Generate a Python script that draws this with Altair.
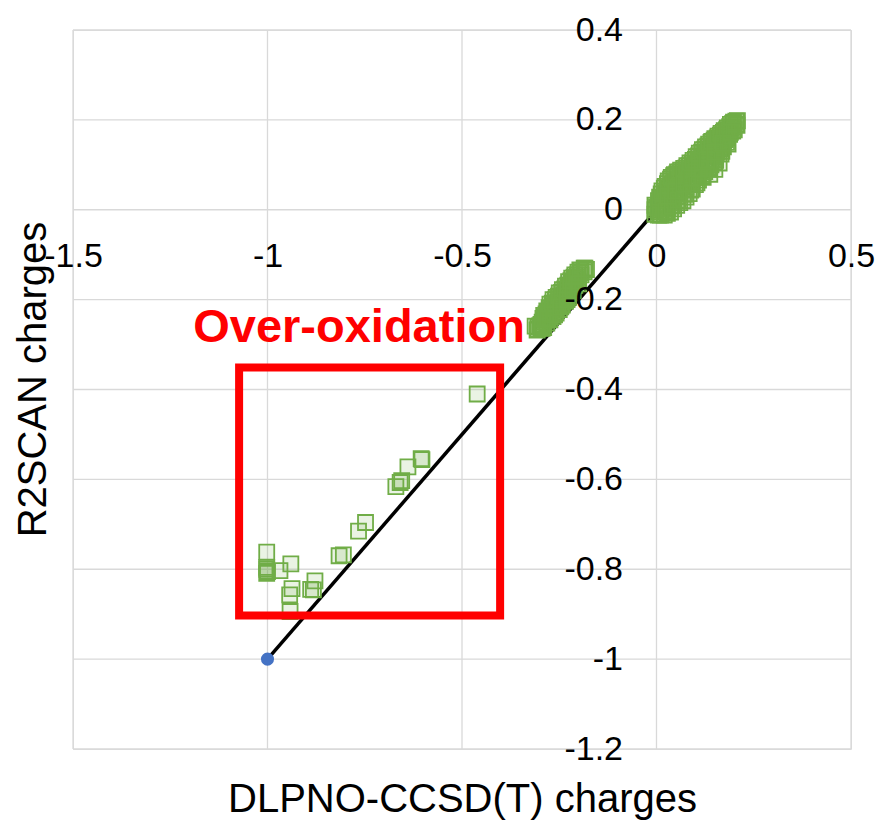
import altair as alt
import pandas as pd

FONT = "Liberation Sans"
W, H = 778, 719
X_DOMAIN = [-1.5, 0.5]
Y_DOMAIN = [-1.2, 0.4]
x_ticks = [-1.5, -1, -0.5, 0, 0.5]
y_ticks = [-1.2, -1, -0.8, -0.6, -0.4, -0.2, 0, 0.2, 0.4]

# over-oxidised outliers
box_x = [-0.461, -0.605, -0.603, -0.639, -0.659, -0.670, -0.655, -0.748, -0.766, -0.805, -0.816,
         -1.002, -1.002, -1.002, -1.000, -0.968, -0.940, -0.878, -0.889, -0.882, -0.937, -0.943,
         -0.942, -1.002]
box_y = [-0.410, -0.554, -0.556, -0.572, -0.607, -0.616, -0.603, -0.696, -0.715, -0.768, -0.770,
         -0.762, -0.796, -0.800, -0.805, -0.803, -0.788, -0.826, -0.845, -0.846, -0.843, -0.857,
         -0.894, -0.809]

# negative cluster
low_x = [-0.312, -0.307, -0.305, -0.305, -0.297, -0.297, -0.290, -0.290, -0.290, -0.290,
         -0.282, -0.282, -0.282, -0.274, -0.274, -0.274, -0.274, -0.266, -0.266, -0.266, -0.266,
         -0.258, -0.258, -0.258, -0.258, -0.250, -0.250, -0.250, -0.250, -0.242, -0.242, -0.242,
         -0.242, -0.234, -0.234, -0.234, -0.234, -0.226, -0.226, -0.226, -0.226, -0.218, -0.218,
         -0.218, -0.218, -0.210, -0.210, -0.210, -0.202, -0.202, -0.202, -0.197, -0.194, -0.194,
         -0.186, -0.186, -0.184, -0.180,
         -0.294, -0.286, -0.278, -0.270, -0.262, -0.254, -0.246, -0.238, -0.230, -0.222, -0.214,
         -0.206, -0.286, -0.270, -0.254, -0.238, -0.222,
         -0.300, -0.292, -0.284, -0.276, -0.268, -0.260, -0.252, -0.244, -0.236, -0.228, -0.220,
         -0.212, -0.204, -0.196, -0.294, -0.278, -0.262, -0.246, -0.230, -0.214, -0.200]
low_y = [-0.259, -0.268, -0.260, -0.265, -0.255, -0.263, -0.235, -0.245, -0.255, -0.262,
         -0.225, -0.240, -0.252, -0.210, -0.225, -0.238, -0.245, -0.200, -0.215, -0.228, -0.238,
         -0.195, -0.210, -0.222, -0.230, -0.185, -0.200, -0.212, -0.222, -0.178, -0.192, -0.205,
         -0.212, -0.170, -0.185, -0.198, -0.204, -0.160, -0.175, -0.186, -0.195, -0.152, -0.165,
         -0.178, -0.185, -0.145, -0.158, -0.168, -0.139, -0.150, -0.160, -0.134, -0.135, -0.145,
         -0.130, -0.138, -0.130, -0.133,
         -0.250, -0.238, -0.228, -0.220, -0.212, -0.205, -0.196, -0.190, -0.180, -0.170, -0.162,
         -0.154, -0.246, -0.232, -0.216, -0.198, -0.181,
         -0.258, -0.242, -0.232, -0.218, -0.208, -0.200, -0.192, -0.184, -0.176, -0.168, -0.158,
         -0.150, -0.145, -0.140, -0.264, -0.244, -0.234, -0.216, -0.200, -0.180, -0.165]

# positive cluster
high_x = [-0.004, -0.004, -0.004, 0.005, 0.005, 0.005, 0.005, 0.012, 0.012, 0.012, 0.012,
          0.020, 0.020, 0.020, 0.020, 0.020, 0.028, 0.028, 0.028, 0.028, 0.028,
          0.036, 0.036, 0.036, 0.036, 0.036, 0.044, 0.044, 0.044, 0.044, 0.044,
          0.052, 0.052, 0.052, 0.052, 0.052, 0.060, 0.060, 0.060, 0.060, 0.060,
          0.068, 0.068, 0.068, 0.068, 0.068, 0.076, 0.076, 0.076, 0.076, 0.076,
          0.084, 0.084, 0.084, 0.084, 0.084, 0.092, 0.092, 0.092, 0.092, 0.092,
          0.100, 0.100, 0.100, 0.100, 0.100, 0.108, 0.108, 0.108, 0.108, 0.108,
          0.116, 0.116, 0.116, 0.116, 0.116, 0.124, 0.124, 0.124, 0.124, 0.124,
          0.132, 0.132, 0.132, 0.132, 0.132, 0.140, 0.140, 0.140, 0.140, 0.140,
          0.148, 0.148, 0.148, 0.148, 0.148, 0.156, 0.156, 0.156, 0.156,
          0.164, 0.164, 0.164, 0.164, 0.172, 0.172, 0.172, 0.172, 0.180, 0.180, 0.180, 0.180,
          0.188, 0.188, 0.188, 0.196, 0.196, 0.196, 0.204, 0.204, 0.208,
          0.137, 0.161, 0.166, 0.207, 0.150,
          0.008, 0.016, 0.024, 0.032, 0.040, 0.048, 0.056, 0.064, 0.072, 0.080, 0.088, 0.096,
          0.104, 0.112, 0.120, 0.128, 0.136, 0.144, 0.152, 0.160, 0.168, 0.176, 0.184, 0.192,
          0.016, 0.032, 0.048, 0.064, 0.080, 0.096, 0.112, 0.128, 0.144, 0.160, 0.176,
          0.000, 0.008, 0.014, 0.022, 0.030, 0.038, 0.046, 0.054, 0.062, 0.070, 0.078, 0.086,
          0.094, 0.102, 0.110, 0.118, 0.126, 0.134, 0.142, 0.150, 0.158, 0.166, 0.174, 0.182,
          0.190, 0.198,
          0.010, 0.024, 0.040, 0.056, 0.072, 0.088, 0.104, 0.120, 0.136, 0.152, 0.168, 0.184,
          0.200, 0.030, 0.050, 0.070, 0.090, 0.110, 0.130, 0.150, 0.170, 0.190]
high_y = [0.010, 0.000, -0.010, 0.020, 0.008, -0.004, -0.012, 0.035, 0.020, 0.005, -0.010,
          0.048, 0.030, 0.012, -0.005, -0.012, 0.058, 0.040, 0.022, 0.005, -0.008,
          0.068, 0.050, 0.032, 0.015, -0.005, 0.076, 0.060, 0.040, 0.022, 0.002,
          0.080, 0.065, 0.048, 0.030, 0.010, 0.084, 0.070, 0.055, 0.038, 0.016,
          0.088, 0.075, 0.060, 0.045, 0.020, 0.093, 0.080, 0.066, 0.050, 0.028,
          0.098, 0.085, 0.072, 0.056, 0.036, 0.104, 0.092, 0.078, 0.062, 0.046,
          0.112, 0.100, 0.086, 0.072, 0.056, 0.120, 0.108, 0.094, 0.080, 0.066,
          0.128, 0.116, 0.102, 0.088, 0.076, 0.135, 0.124, 0.110, 0.096, 0.085,
          0.142, 0.130, 0.118, 0.104, 0.094, 0.150, 0.138, 0.126, 0.112, 0.100,
          0.155, 0.145, 0.132, 0.118, 0.106, 0.160, 0.150, 0.140, 0.128,
          0.166, 0.156, 0.146, 0.135, 0.172, 0.162, 0.152, 0.140, 0.178, 0.170, 0.160, 0.150,
          0.185, 0.176, 0.168, 0.192, 0.184, 0.175, 0.197, 0.190, 0.198,
          0.079, 0.104, 0.124, 0.188, 0.090,
          0.014, 0.026, 0.038, 0.048, 0.056, 0.062, 0.068, 0.073, 0.078, 0.083, 0.088, 0.095,
          0.102, 0.110, 0.118, 0.125, 0.132, 0.140, 0.147, 0.154, 0.160, 0.166, 0.174, 0.182,
          0.002, 0.022, 0.040, 0.052, 0.062, 0.072, 0.084, 0.098, 0.112, 0.138, 0.156,
          0.005, 0.028, 0.042, 0.052, 0.064, 0.072, 0.078, 0.084, 0.088, 0.092, 0.098, 0.104,
          0.110, 0.118, 0.126, 0.134, 0.140, 0.146, 0.152, 0.158, 0.164, 0.170, 0.176, 0.182,
          0.190, 0.195,
          -0.012, -0.002, 0.008, 0.022, 0.034, 0.044, 0.060, 0.072, 0.090, 0.110, 0.130, 0.146,
          0.178, 0.030, 0.042, 0.058, 0.070, 0.090, 0.110, 0.128, 0.148, 0.172]

line_x = [-1.0, 0.0]
line_y = [-1.0, 0.0]
ref_x = [-1.0]
ref_y = [-1.0]

region_x = [-1.073]
region_x2 = [-0.402]
region_y = [-0.903]
region_y2 = [-0.351]
label_text = ["Over-oxidation"]
label_x = [-1.191]
label_y = [-0.294]

pts = pd.DataFrame({"x": box_x + low_x + high_x, "y": box_y + low_y + high_y})
line_df = pd.DataFrame({"x": line_x, "y": line_y})
ref_df = pd.DataFrame({"x": ref_x, "y": ref_y})
region_df = pd.DataFrame({"x": region_x, "x2": region_x2, "y": region_y, "y2": region_y2})
label_df = pd.DataFrame({"t": label_text, "x": label_x, "y": label_y})
xgrid_df = pd.DataFrame({"v": x_ticks})
ygrid_df = pd.DataFrame({"v": y_ticks})

# axes cross at zero
x_axis_offset = -(H * (0 - Y_DOMAIN[0]) / (Y_DOMAIN[1] - Y_DOMAIN[0]))
y_axis_offset = -(W * (0 - X_DOMAIN[0]) / (X_DOMAIN[1] - X_DOMAIN[0]))

x_scale = alt.Scale(domain=X_DOMAIN, nice=False, zero=False)
y_scale = alt.Scale(domain=Y_DOMAIN, nice=False, zero=False)

x_axis = alt.Axis(
    values=x_ticks, labelExpr="'' + datum.value", offset=x_axis_offset,
    domain=False, ticks=False, tickSize=0, labelPadding=30,
    labelFont=FONT, labelFontSize=34, labelColor="#000000",
    labelFlush=False, labelOverlap=False, grid=False,
    title="DLPNO-CCSD(T) charges", titleFont=FONT, titleFontSize=40,
    titleFontWeight="normal", titleColor="#000000",
    titleX=W / 2, titleY=602, titleAlign="center", titleBaseline="alphabetic",
    zindex=1,
)
y_axis = alt.Axis(
    values=y_ticks, labelExpr="'' + datum.value", offset=y_axis_offset,
    domain=False, ticks=False, tickSize=0, labelPadding=34,
    labelFont=FONT, labelFontSize=34, labelColor="#000000",
    labelFlush=False, labelOverlap=False, grid=False,
    title="R2SCAN charges", titleFont=FONT, titleFontSize=40,
    titleFontWeight="normal", titleColor="#000000",
    titleX=33 - 73 + y_axis_offset, titleY=349, titleAngle=270,
    titleAlign="center", titleBaseline="middle",
    zindex=1,
)

xgrid = alt.Chart(xgrid_df).mark_rule(color="#D9D9D9", strokeWidth=1.3).encode(
    x=alt.X("v:Q", scale=x_scale, axis=x_axis)
)
ygrid = alt.Chart(ygrid_df).mark_rule(color="#D9D9D9", strokeWidth=1.3).encode(
    y=alt.Y("v:Q", scale=y_scale, axis=y_axis)
)

line = alt.Chart(line_df).mark_line(color="#000000", strokeWidth=3.5).encode(
    x="x:Q", y="y:Q"
)

squares = alt.Chart(pts).mark_square(
    size=225, fill="#70AD47", fillOpacity=0.15, stroke="#70AD47",
    strokeWidth=1.8, strokeOpacity=1, opacity=1,
).encode(x="x:Q", y="y:Q")

ref = alt.Chart(ref_df).mark_circle(size=170, color="#4472C4", opacity=1).encode(
    x="x:Q", y="y:Q"
)

region = alt.Chart(region_df).mark_rect(
    fill="transparent", stroke="#FF0000", strokeWidth=8
).encode(x="x:Q", x2="x2:Q", y="y:Q", y2="y2:Q")

label = alt.Chart(label_df).mark_text(
    align="left", baseline="alphabetic", font=FONT, fontSize=47,
    fontWeight="bold", color="#FF0000",
).encode(x="x:Q", y="y:Q", text="t:N")

chart = alt.layer(xgrid, ygrid, line, squares, ref, region, label).properties(
    width=W, height=H,
    padding={"left": 73, "top": 30, "right": 28, "bottom": 75},
    autosize=alt.AutoSizeParams(type="none"),
).configure_view(stroke=None).configure(background="#FFFFFF")

chart.save("out.html", embed_options={"renderer": "svg", "actions": False})
